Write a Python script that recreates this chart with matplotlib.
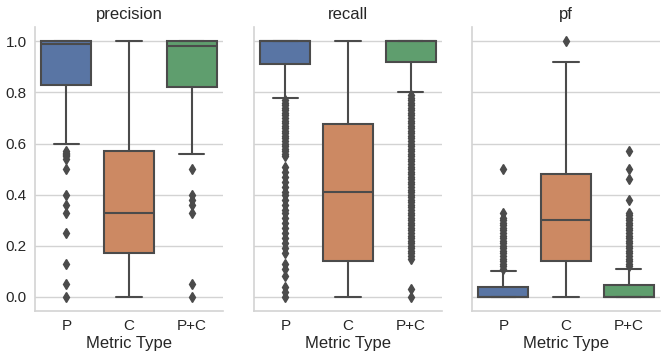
import matplotlib
matplotlib.use("Agg")
import matplotlib.pyplot as plt
import seaborn as sns

sns.set_style("whitegrid")
plt.rcParams['font.family'] = ['Liberation Sans', 'DejaVu Sans']

metrics = ['precision', 'recall', 'pf']
types = ['P', 'C', 'P+C']

# box stats per metric, in order P, C, P+C
q1 = {'precision': [0.83, 0.17, 0.82],
      'recall':    [0.91, 0.14, 0.92],
      'pf':        [0.00, 0.14, 0.00]}
med = {'precision': [0.99, 0.33, 0.98],
       'recall':    [1.00, 0.41, 1.00],
       'pf':        [0.00, 0.30, 0.00]}
q3 = {'precision': [1.00, 0.57, 1.00],
      'recall':    [1.00, 0.675, 1.00],
      'pf':        [0.04, 0.48, 0.045]}
whislo = {'precision': [0.60, 0.00, 0.56],
          'recall':    [0.78, 0.00, 0.80],
          'pf':        [0.00, 0.00, 0.00]}
whishi = {'precision': [1.00, 1.00, 1.00],
          'recall':    [1.00, 1.00, 1.00],
          'pf':        [0.10, 0.92, 0.11]}
fliers = {
    'precision': [
        [0.57, 0.565, 0.56, 0.555, 0.55, 0.54, 0.50, 0.40, 0.36, 0.33, 0.25, 0.13, 0.05, 0.0],
        [],
        [0.50, 0.40, 0.38, 0.36, 0.33, 0.05, 0.0]],
    'recall': [
        [0.77, 0.76, 0.75, 0.74, 0.73, 0.72, 0.71, 0.70, 0.69, 0.68, 0.67, 0.66, 0.65,
         0.64, 0.63, 0.62, 0.61, 0.60, 0.59, 0.58, 0.57, 0.56, 0.55,
         0.51, 0.49, 0.47, 0.45, 0.43, 0.41, 0.40, 0.38, 0.36, 0.34, 0.33, 0.31,
         0.29, 0.27, 0.25, 0.23, 0.21, 0.19, 0.17, 0.13, 0.11, 0.08, 0.04, 0.02, 0.0],
        [],
        [0.79, 0.78, 0.77, 0.76, 0.75, 0.74, 0.73, 0.72, 0.71, 0.70, 0.69, 0.68, 0.67,
         0.66, 0.65, 0.64, 0.63, 0.62, 0.61, 0.60, 0.59, 0.58, 0.57, 0.56, 0.55, 0.54,
         0.53, 0.52, 0.51, 0.50, 0.49, 0.48, 0.47, 0.46, 0.45, 0.44, 0.43, 0.42, 0.41,
         0.40, 0.39, 0.38, 0.37, 0.36, 0.35, 0.34, 0.33, 0.32, 0.31, 0.30, 0.29, 0.28,
         0.27, 0.26, 0.25, 0.24, 0.23, 0.22, 0.21, 0.20, 0.19, 0.18, 0.17, 0.16, 0.15,
         0.03, 0.0]],
    'pf': [
        [0.11, 0.12, 0.13, 0.14, 0.15, 0.16, 0.17, 0.18, 0.19, 0.20, 0.21, 0.22, 0.23,
         0.24, 0.25, 0.26, 0.27, 0.28, 0.29, 0.30, 0.31, 0.33, 0.50],
        [1.0],
        [0.12, 0.13, 0.14, 0.15, 0.16, 0.17, 0.18, 0.19, 0.20, 0.21, 0.22, 0.23, 0.24,
         0.25, 0.26, 0.27, 0.28, 0.29, 0.30, 0.31, 0.32, 0.33, 0.38, 0.46, 0.50, 0.57]],
}

colors = [sns.desaturate(c, 0.75) for c in sns.color_palette('deep')[:3]]
gray = '#4b4b4b'

fig = plt.figure(figsize=(6.64, 3.64), dpi=100)
lefts = [35, 254, 472]
width = 188
axs = []
for i, m in enumerate(metrics):
    ax = fig.add_axes([lefts[i] / 664, 1 - 311 / 364, width / 664, (311 - 27.3) / 364],
                      sharey=axs[0] if axs else None)
    axs.append(ax)
    stats = []
    for j in range(3):
        stats.append(dict(med=med[m][j], q1=q1[m][j], q3=q3[m][j],
                          whislo=whislo[m][j], whishi=whishi[m][j],
                          fliers=fliers[m][j]))
    bp = ax.bxp(stats, positions=[0, 1, 2], widths=0.8, patch_artist=True,
                boxprops=dict(edgecolor=gray, linewidth=1.5),
                medianprops=dict(color=gray, linewidth=1.5),
                whiskerprops=dict(color=gray, linewidth=1.5),
                capprops=dict(color=gray, linewidth=1.5),
                flierprops=dict(marker='d', markerfacecolor=gray, markeredgecolor=gray,
                                markersize=5, linestyle='none'))
    for patch, c in zip(bp['boxes'], colors):
        patch.set_facecolor(c)
    ax.set_xlim(-0.5, 2.5)
    ax.set_ylim(-0.055, 1.055)
    ax.set_xticks([0, 1, 2])
    ax.set_xticklabels(types)
    ax.set_yticks([0.0, 0.2, 0.4, 0.6, 0.8, 1.0])
    ax.grid(axis='x', visible=False)
    ax.grid(axis='y', color='#d3d3d3', linewidth=1)
    ax.set_axisbelow(True)
    for s in ['top', 'right']:
        ax.spines[s].set_visible(False)
    for s in ['left', 'bottom']:
        ax.spines[s].set_color('#d3d3d3')
        ax.spines[s].set_linewidth(1.2)
    ax.tick_params(length=0, labelsize=11, colors='#262626', pad=6)
    ax.set_title(m, fontsize=12, color='#262626', pad=6)
    ax.set_xlabel('Metric Type', fontsize=12, color='#262626', labelpad=2)
    if i > 0:
        ax.tick_params(axis='y', labelleft=False)
    ax.yaxis.set_major_formatter(matplotlib.ticker.FormatStrFormatter('%.1f'))

fig.savefig('out.png', dpi=100)
